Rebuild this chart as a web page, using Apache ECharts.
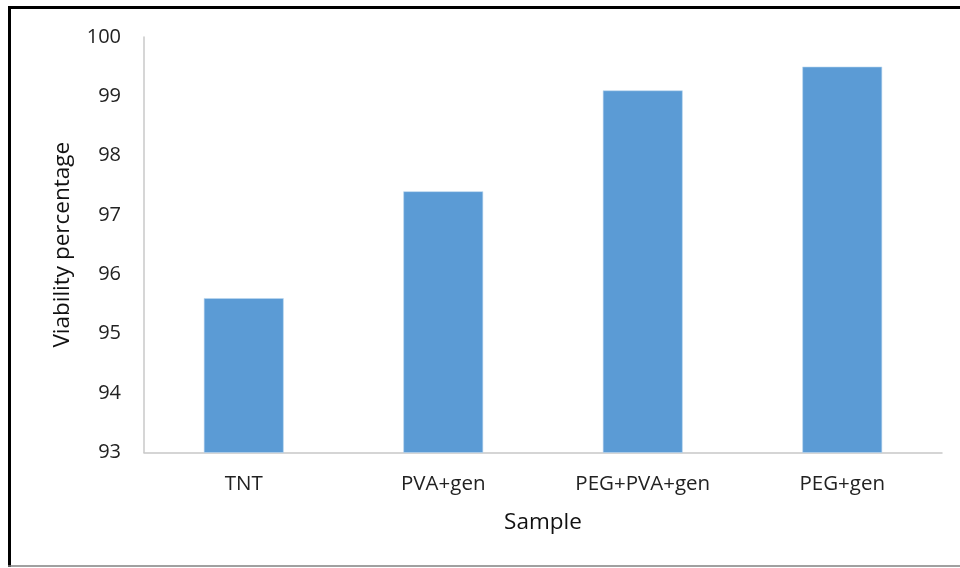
<!DOCTYPE html>
<html>
<head>
<meta charset="utf-8">
<script src="https://cdn.jsdelivr.net/npm/echarts@6/dist/echarts.min.js"></script>
<style>html,body{margin:0;padding:0;background:#fff}#c{width:960px;height:568px}</style>
</head>
<body>
<div id="c"></div>
<script>
var categories = ['TNT', 'PVA+gen', 'PEG+PVA+gen', 'PEG+gen'];
var viability = [95.6, 97.4, 99.1, 99.5];
var yTicks = [93, 94, 95, 96, 97, 98, 99, 100];

var chart = echarts.init(document.getElementById('c'), null, {renderer: 'canvas'});
var font = 'Open Sans, Noto Sans, sans-serif';
chart.setOption({
  animation: false,
  backgroundColor: '#fff',
  grid: {left: 144, right: 18, top: 37, bottom: 115.5, containLabel: false},
  xAxis: {
    type: 'category',
    data: categories,
    name: 'Sample',
    nameLocation: 'middle',
    nameGap: 59,
    nameTextStyle: {fontFamily: font, fontSize: 22.5, color: '#111'},
    axisLine: {lineStyle: {color: '#c8c8c8', width: 1.5}},
    axisTick: {show: false},
    axisLabel: {fontFamily: font, fontSize: 20.5, color: '#222', margin: 21}
  },
  yAxis: {
    type: 'value',
    min: yTicks[0],
    max: yTicks[yTicks.length - 1],
    interval: 1,
    name: 'Viability percentage',
    nameLocation: 'middle',
    nameGap: 70,
    nameTextStyle: {fontFamily: font, fontSize: 22.5, color: '#111'},
    axisLine: {show: true, lineStyle: {color: '#c8c8c8', width: 1.5}},
    axisTick: {show: false},
    splitLine: {show: false},
    axisLabel: {fontFamily: font, fontSize: 20, color: '#222', margin: 23}
  },
  series: [{
    type: 'bar',
    data: viability,
    barWidth: '40%',
    itemStyle: {color: '#5B9BD5', borderColor: '#bcd6ee', borderWidth: 0.6}
  }],
  graphic: [
    {type: 'line', shape: {x1: 9.5, y1: 6, x2: 9.5, y2: 567}, style: {stroke: '#000', lineWidth: 3}},
    {type: 'line', shape: {x1: 8, y1: 7.5, x2: 960, y2: 7.5}, style: {stroke: '#000', lineWidth: 3}},
    {type: 'line', shape: {x1: 8, y1: 566, x2: 960, y2: 566}, style: {stroke: '#808080', lineWidth: 1.5}}
  ]
});
</script>
</body>
</html>
